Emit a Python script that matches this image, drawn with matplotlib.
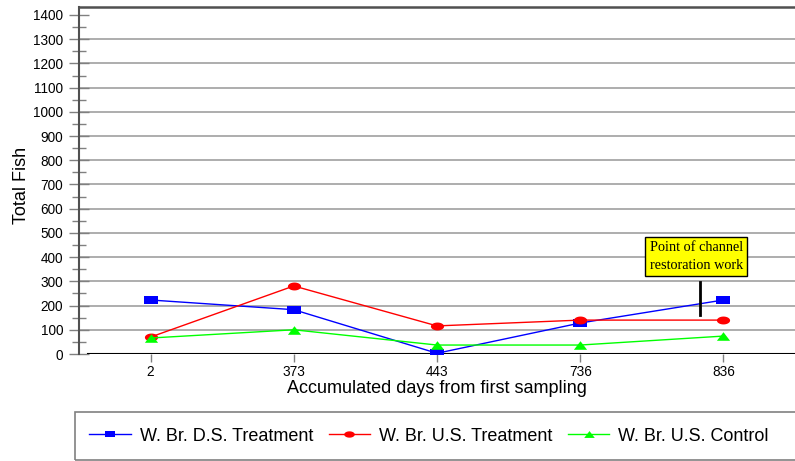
import numpy as np
import matplotlib
matplotlib.use("Agg")
import matplotlib.pyplot as plt
from matplotlib.patches import Rectangle

plt.rcParams['font.family'] = ['Liberation Sans', 'DejaVu Sans']

days = ["2", "373", "443", "736", "836"]
ds_treatment = [223, 183, 3, 128, 223]
us_treatment = [70, 281, 116, 140, 140]
us_control = [66, 100, 37, 37, 74]
labels = ["W. Br. D.S. Treatment", "W. Br. U.S. Treatment", "W. Br. U.S. Control"]
colors = ["#0000ff", "#ff0000", "#00ff00"]

note_text = "Point of channel\nrestoration work"
note_pos = (3.81, 403)
note_line_x = 3.84
note_line_y = (160, 297)

# squashed marker shapes (wider than tall)
sq = [(-1, -0.62), (1, -0.62), (1, 0.62), (-1, 0.62), (-1, -0.62)]
t = np.linspace(0, 2 * np.pi, 40)
ell = list(zip(np.cos(t), 0.6 * np.sin(t)))
tri = [(-1, -0.65), (1, -0.65), (0, 0.65), (-1, -0.65)]
markers = [sq, ell, tri]

fig = plt.figure(figsize=(7.95, 4.61), dpi=100)
ax = fig.add_axes([79 / 795, 1 - 354 / 461, 1 - 79 / 795, 347 / 461])

x = np.arange(len(days))
for vals, lab, c, m in zip([ds_treatment, us_treatment, us_control], labels, colors, markers):
    ax.plot(x, vals, color=c, lw=1, marker=m, markersize=9.5, markeredgewidth=0,
            label=lab, zorder=3)

ax.set_xlim(-0.5, len(days) - 0.5)
ax.set_ylim(0, 1433)
yt = np.arange(0, 1401, 100)
ax.set_yticks(yt)
ax.set_yticks(np.arange(50, 1400, 100), minor=True)
for v in yt[1:-1]:
    ax.axhline(v, color="#a0a0a0", lw=1.2, zorder=0)
ax.axhline(0, xmin=9 / 716, xmax=1, color="black", lw=1.5, zorder=2)

ax.set_xticks(x)
ax.set_xticklabels(days)
ax.tick_params(axis="x", direction="out", length=6, width=1, color="#808080",
               labelsize=9.8, pad=2)
ax.tick_params(axis="y", which="major", direction="inout", length=14.4, width=1,
               color="#808080", labelsize=9.8, pad=4.3)
ax.tick_params(axis="y", which="minor", direction="inout", length=9.4, width=1,
               color="#808080")

for s in ["right", "bottom"]:
    ax.spines[s].set_visible(False)
ax.spines["left"].set_color("#505050")
ax.spines["left"].set_linewidth(1.5)
ax.spines["top"].set_color("#505050")
ax.spines["top"].set_linewidth(1.8)

fig.text(22 / 795, 1 - 185 / 461, "Total Fish", rotation=90, ha="center", va="center",
         fontsize=13)
fig.text(437 / 795, 1 - 388 / 461, "Accumulated days from first sampling", ha="center",
         va="center", fontsize=13)

ax.text(note_pos[0], note_pos[1], note_text, ha="center", va="center",
        fontsize=10.3, family="Liberation Serif", linespacing=1.45,
        bbox=dict(boxstyle="square,pad=0.3", fc="#ffff00", ec="black", lw=1), zorder=5)
ax.plot([note_line_x, note_line_x], note_line_y, color="black", lw=2, zorder=5)

# legend box
fig.patches.append(Rectangle((75 / 795, 1 - 460 / 461), 1, 48 / 461, transform=fig.transFigure,
                             fill=False, ec="#808080", lw=1.2))
fig.legend(loc="center left", bbox_to_anchor=(82 / 795, 1 - 436 / 461), ncol=3,
           frameon=False, fontsize=13, handlelength=2.3, handletextpad=0.5,
           columnspacing=0.85, borderaxespad=0, markerscale=0.8)

fig.savefig("out.png", dpi=100)
